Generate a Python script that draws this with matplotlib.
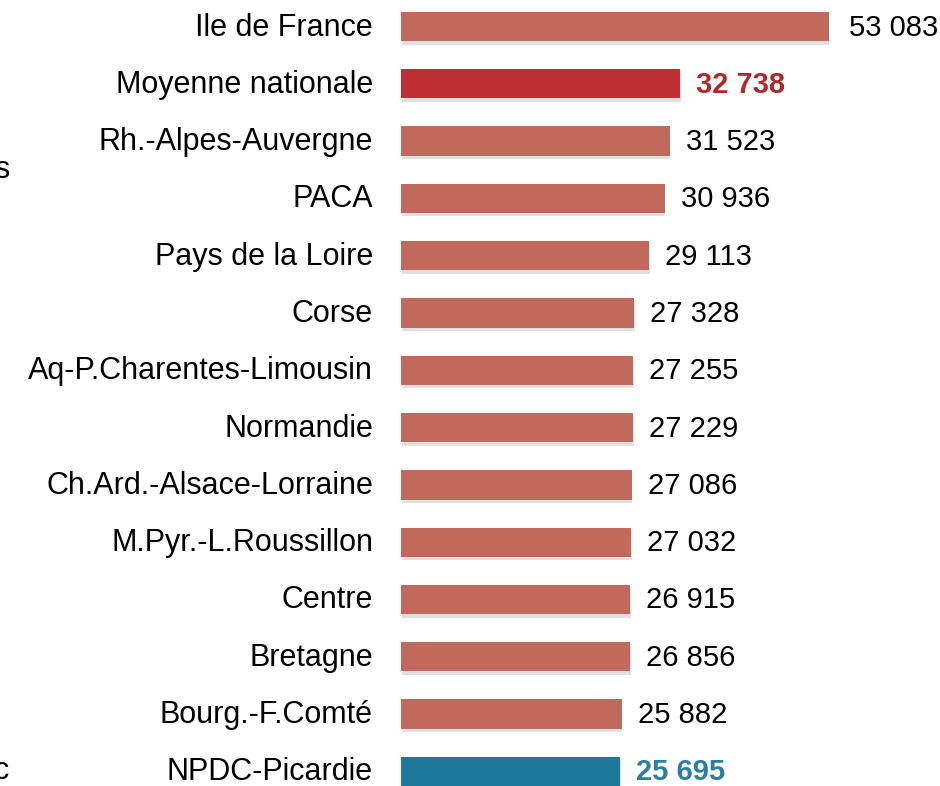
import numpy as np
import matplotlib
matplotlib.use("Agg")
import matplotlib.pyplot as plt
import matplotlib.patheffects as pe

plt.rcParams['font.family'] = ['Liberation Sans', 'DejaVu Sans']

# data (revenu moyen par region)
regions = ['Ile de France', 'Moyenne nationale', 'Rh.-Alpes-Auvergne', 'PACA',
           'Pays de la Loire', 'Corse', 'Aq-P.Charentes-Limousin', 'Normandie',
           'Ch.Ard.-Alsace-Lorraine', 'M.Pyr.-L.Roussillon', 'Centre', 'Bretagne',
           'Bourg.-F.Comté', 'NPDC-Picardie']
values = [53083, 32738, 31523, 30936, 29113, 27328, 27255, 27229,
          27086, 27032, 26915, 26856, 25882, 25695]

bar_col = '#C1695B'
nat_col = '#BE2D2F'
npdc_col = '#1E789B'
colors = [bar_col] * len(values)
colors[1] = nat_col
colors[-1] = npdc_col

W, H = 940, 786
fig = plt.figure(figsize=(W / 100, H / 100), dpi=100)
ax = fig.add_axes([401 / W, 0, 428 / W, 1])

y = np.arange(len(values))
xmax = 428 / 0.00852
bars = ax.barh(y, values, height=0.51, color=colors, zorder=2)
for b in bars:
    b.set_path_effects([pe.SimplePatchShadow(offset=(0.5, -2.5), alpha=0.16, shadow_rgbFace='#444444'),
                        pe.Normal()])

ax.set_xlim(0, xmax)
ax.set_ylim((H - 26.5) / 57.3, -26.5 / 57.3)
ax.axis('off')

for i, (name, v) in enumerate(zip(regions, values)):
    ax.annotate(name, (0, i), xytext=(-28, -1), textcoords='offset pixels',
                ha='right', va='center', fontsize=22, color='black')
    txt = f"{v:,}".replace(",", " ")
    tcol, tw = 'black', 'normal'
    if i == 1:
        tcol, tw = '#B0282A', 'bold'
    elif i == len(values) - 1:
        tcol, tw = '#2A7FA3', 'bold'
    off = 20 if v > xmax else 16
    ax.annotate(txt, (min(v, xmax), i), xytext=(off, -1), textcoords='offset pixels',
                ha='left', va='center', fontsize=21, color=tcol, fontweight=tw,
                annotation_clip=False)

# bits of text cut by the left edge
fig.text(9 / W, 1 - 170 / H, 's', ha='right', va='center', fontsize=22)
fig.text(9 / W, 1 - 771 / H, 'c', ha='right', va='center', fontsize=22)

fig.savefig('out.png', dpi=100)
